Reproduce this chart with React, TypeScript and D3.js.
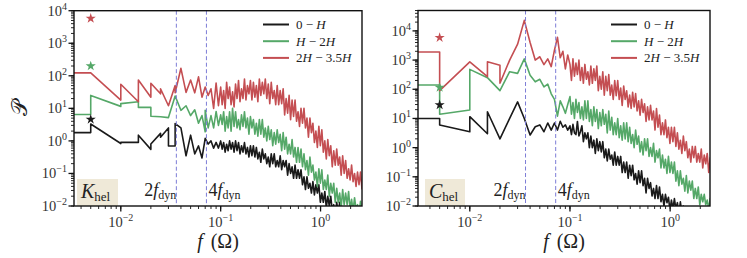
import React from 'react';
import * as d3 from 'd3';

// ---------- shared ----------
const SERIES_LABELS = ['0 − H', 'H − 2H', '2H − 3.5H'];
const COLORS = ['#1a1a1a', '#55a868', '#c44e52'];
const F_DYN = 0.018;
const STAR_F = 0.005;
// high-frequency sample grid (0.1 .. 2.6), 96 samples
const highF = d3.range(96).map((i) => 0.1 * Math.pow(10, (i * Math.log10(26)) / 95));

// ---------- K_hel panel ----------
const kBlackF = [0.001, 0.005, 0.005, 0.01, 0.01, 0.015, 0.015, 0.02, 0.02, 0.025, 0.025, 0.03, 0.03, 0.035, 0.035, 0.04, 0.045, 0.05, 0.055, 0.06, 0.065, 0.07, 0.075, 0.08, 0.085, 0.09, 0.095];
const kBlackV = [1.8, 1.8, 3.3, 0.83, 0.9, 0.9, 1.5, 0.55, 0.8, 1.7, 1.3, 2.5, 0.7, 0.7, 3.4, 2.5, 0.35, 1.5, 0.4, 0.7, 0.3, 1.2, 0.8, 1.0, 0.6, 0.9, 0.6];
const kBlackHi = [1,0.56,0.89,0.45,0.79,0.5,1,0.56,
  0.89,0.45,1,0.5,0.89,0.4,0.71,0.45,
  0.89,0.4,0.63,0.32,0.71,0.35,0.71,0.32,
  0.63,0.28,0.45,0.22,0.56,0.28,0.4,0.2,
  0.32,0.16,0.4,0.2,0.4,0.16,0.25,0.16,
  0.35,0.13,0.25,0.16,0.25,0.089,0.2,0.1,
  0.16,0.071,0.18,0.071,0.13,0.071,0.13,0.045,
  0.079,0.032,0.079,0.035,0.05,0.025,0.056,0.022,
  0.045,0.025,0.045,0.013,0.025,0.013,0.028,0.0089,
  0.02,0.01,0.02,0.0071,0.011,0.0056,0.013,0.0063,
  0.013,0.005,0.0089,0.0032,0.0089,0.004,0.0063,0.0028,
  0.005,0.0022,0.0056,0.0025,0.0056,0.002,0.0035,0.0014];

const kGreenF = [0.001, 0.005, 0.005, 0.01, 0.01, 0.015, 0.015, 0.02, 0.02, 0.025, 0.03, 0.035, 0.04, 0.045, 0.05, 0.055, 0.06, 0.065, 0.07, 0.07, 0.075, 0.08, 0.085, 0.09, 0.095];
const kGreenV = [6.5, 6.5, 25, 11.5, 14, 16, 10.7, 10.7, 5.7, 5.5, 5.2, 24, 8.7, 12, 6, 9, 3.5, 6, 1.9, 8.7, 2.5, 6, 2.5, 8, 3];
const kGreenHi = [6.3,3.2,7.9,2,5.6,2.5,7.9,2,
  10,2.8,7.9,2.5,4.5,2.2,6.3,2.8,
  7.9,2.5,5,1.6,5.6,2.5,4.5,1.6,
  3.5,1.4,4.5,1.6,4.5,1.3,2.5,1,
  2.8,1.1,2.2,0.71,1.8,0.79,2.2,0.89,
  1.6,0.5,1.8,0.56,1.3,0.4,0.79,0.4,
  1.1,0.32,0.63,0.22,0.63,0.22,0.56,0.16,
  0.4,0.13,0.25,0.089,0.32,0.11,0.18,0.063,
  0.11,0.04,0.14,0.05,0.13,0.032,0.063,0.032,
  0.089,0.02,0.05,0.025,0.05,0.013,0.035,0.013,
  0.025,0.0089,0.032,0.011,0.025,0.011,0.028,0.0079,
  0.016,0.0071,0.018,0.0079,0.011,0.0056,0.014,0.0056];

const kRedF = [0.001, 0.005, 0.01, 0.01, 0.015, 0.015, 0.02, 0.02, 0.025, 0.025, 0.03, 0.035, 0.035, 0.04, 0.045, 0.05, 0.055, 0.06, 0.065, 0.07, 0.075, 0.08, 0.085, 0.09, 0.095];
const kRedV = [123, 123, 18, 55, 16, 74, 22, 59, 28, 40, 12, 50, 30, 170, 31, 74, 30, 93, 22, 45, 25, 40, 10, 60, 12];
const kRedHi = [45,13,35,10,63,20,45,13,
  32,11,56,20,71,16,40,20,
  79,18,50,28,71,18,63,22,
  50,16,79,25,63,28,79,20,
  56,14,63,20,35,13,50,13,
  35,14,40,6.3,20,7.1,25,4.5,
  18,5.6,18,4,7.9,2.8,10,3.5,
  10,2.5,5,1.3,5,1.8,3.5,0.89,
  2,0.63,2.8,0.71,2.2,0.45,1,0.28,
  1.1,0.35,0.71,0.16,0.5,0.18,0.56,0.18,
  0.32,0.089,0.35,0.1,0.25,0.071,0.14,0.063,
  0.18,0.056,0.1,0.04,0.11,0.045,0.11,0.032];

const kStars = [4.6, 200, 5800];

// ---------- C_hel panel ----------
const cBlackF = [0.001, 0.005, 0.005, 0.01, 0.01, 0.015, 0.015, 0.02, 0.025, 0.03, 0.035, 0.04, 0.045, 0.05, 0.055, 0.06, 0.065, 0.07, 0.075, 0.08, 0.085, 0.09, 0.095];
const cBlackV = [10, 10, 6, 3.5, 11.5, 3, 17, 2, 10, 37, 10, 2.7, 5.2, 6, 3.5, 7, 4, 7, 4, 8, 5, 6, 4];
const cBlackHi = [5.6,2.8,6.3,3.2,2.8,7.9,2.5,3.5,
  5.6,1.6,3.2,2,3.2,1,2.5,1,
  1.8,0.63,2,0.79,1.6,0.71,1.6,0.45,
  0.89,0.35,0.89,0.4,0.56,0.25,0.71,0.25,
  0.5,0.25,0.5,0.14,0.32,0.14,0.32,0.089,
  0.25,0.11,0.25,0.079,0.13,0.056,0.16,0.063,
  0.16,0.05,0.089,0.028,0.089,0.04,0.063,0.022,
  0.04,0.018,0.05,0.018,0.045,0.014,0.025,0.01,
  0.025,0.013,0.02,0.0071,0.016,0.0079,0.018,0.0079,
  0.013,0.005,0.014,0.0056,0.01,0.004,0.0071,0.004,
  0.0079,0.0032,0.0056,0.0025,0.0063,0.0025,0.0056,0.0022,
  0.0045,0.0018,0.0032,0.0014,0.004,0.0018,0.0025,0.0011];

const cGreenF = [0.001, 0.005, 0.005, 0.01, 0.01, 0.015, 0.02, 0.025, 0.03, 0.035, 0.04, 0.045, 0.05, 0.055, 0.06, 0.065, 0.07, 0.075, 0.08, 0.085, 0.09, 0.095];
const cGreenV = [140, 140, 14, 19.5, 480, 250, 90, 400, 350, 1100, 300, 180, 220, 120, 150, 70, 45, 12, 40, 25, 15, 30];
const cGreenHi = [56,14,35,10,45,16,35,10,
  25,8.9,40,10,40,7.9,20,5.6,
  25,7.9,20,4.5,16,5.6,20,6.3,
  14,3.2,18,4,11,2.8,7.1,2.8,
  10,2.2,5.6,1.8,7.1,2,7.1,1.6,
  5,1.4,2.8,1,4,1.3,2.5,0.71,
  1.6,0.56,2,0.79,2,0.5,1,0.5,
  1.4,0.32,0.79,0.45,0.89,0.2,0.56,0.2,
  0.4,0.13,0.5,0.14,0.32,0.13,0.32,0.071,
  0.16,0.05,0.16,0.056,0.089,0.032,0.11,0.028,
  0.071,0.035,0.071,0.018,0.04,0.018,0.045,0.011,
  0.025,0.014,0.025,0.011,0.016,0.0079,0.018,0.0089];

const cRedF = [0.001, 0.005, 0.005, 0.01, 0.015, 0.015, 0.02, 0.02, 0.025, 0.03, 0.035, 0.04, 0.045, 0.05, 0.055, 0.06, 0.065, 0.07, 0.075, 0.08, 0.085, 0.09, 0.095];
const cRedV = [1900, 1900, 90, 870, 270, 870, 670, 160, 1000, 3500, 23000, 4000, 1000, 1300, 700, 1100, 600, 2200, 6000, 1200, 2000, 500, 1500];
const cRedHi = [710,200,1100,280,790,320,1000,200,
  560,160,710,220,400,140,630,160,
  500,200,630,89,280,100,400,63,
  280,89,320,63,140,45,200,60,
  200,45,110,28,130,45,89,25,
  63,22,79,25,71,18,40,13,
  45,16,32,7.9,25,8.9,28,8.9,
  18,4,22,5,13,2.8,7.1,2.8,
  8.9,2.2,5,1.4,5,1.6,5,1.1,
  3.2,0.89,1.8,0.63,2.5,0.79,1.6,0.45,
  0.89,0.32,1.1,0.45,1.1,0.32,0.63,0.32,
  0.89,0.2,0.56,0.28,0.63,0.14,0.45,0.16];

const cStars = [29, 115, 5900];

const FONT = "'Liberation Serif', 'DejaVu Serif', serif";

type Series = { f: number[]; v: number[]; hi: number[] };

function sup(e: number) {
  return e < 0 ? '−' + Math.abs(e) : String(e);
}

function LegendLabel({ text }: { text: string }) {
  return (
    <>
      {text.split('').map((ch, i) =>
        ch === 'H' ? (
          <tspan key={i} fontStyle="italic">H</tspan>
        ) : (
          <tspan key={i}>{ch}</tspan>
        )
      )}
    </>
  );
}

function Panel(props: {
  id: string;
  xDomain: [number, number];
  xRange: [number, number];
  yDomain: [number, number];
  yRange: [number, number];
  series: Series[];
  stars: number[];
  tag: string;
  tagBox: [number, number];
  legendX: number;
  yLabel: boolean;
}) {
  const { id, xDomain, xRange, yDomain, yRange, series, stars, tag, tagBox, legendX, yLabel } = props;
  const x = d3.scaleLog().domain(xDomain).range(xRange);
  const y = d3.scaleLog().domain(yDomain).range(yRange);
  const [x0, x1] = xRange;
  const [yb, yt] = yRange;
  const line = d3
    .line<[number, number]>()
    .x((d) => x(d[0]))
    .y((d) => y(Math.max(d[1], 1e-6)));

  const minorX: number[] = [];
  for (let e = -4; e <= 1; e++)
    for (let k = 1; k <= 9; k++) {
      const f = k * Math.pow(10, e);
      if (f >= xDomain[0] && f <= xDomain[1]) minorX.push(f);
    }
  const minorY: number[] = [];
  for (let e = -3; e <= 5; e++)
    for (let k = 1; k <= 9; k++) {
      const v = k * Math.pow(10, e);
      if (v >= yDomain[0] && v <= yDomain[1] * 1.0001) minorY.push(v);
    }
  const majorX = [-2, -1, 0];
  const majorY = [-2, -1, 0, 1, 2, 3, 4];
  const star = d3.symbol().type(d3.symbolStar).size(32)();

  return (
    <g fontFamily={FONT}>
      <defs>
        <clipPath id={id}>
          <rect x={x0} y={yt} width={x1 - x0} height={yb - yt} />
        </clipPath>
      </defs>
      {/* tag box */}
      <rect x={tagBox[0]} y={yb - 27} width={tagBox[1] - tagBox[0]} height={27} fill="#efe9d8" />
      <text x={tagBox[0] + 4} y={yb - 8} fontSize={20} fill="#222">
        <tspan fontStyle="italic">{tag}</tspan>
        <tspan fontSize={13} dy={3}>hel</tspan>
      </text>
      <g clipPath={`url(#${id})`}>
        {series.map((s, si) => {
          const pts: [number, number][] = s.f.map((f, i) => [f, s.v[i]] as [number, number]);
          highF.forEach((f, i) => pts.push([f, s.hi[i]]));
          return (
            <path key={si} d={line(pts) || ''} fill="none" stroke={COLORS[si]} strokeWidth={1.6} strokeLinejoin="round" />
          );
        })}
        {stars.map((v, si) => (
          <path key={'s' + si} d={star || ''} transform={`translate(${x(STAR_F)},${y(v)})`} fill={COLORS[si]} />
        ))}
      </g>
      {/* f_dyn lines */}
      {[2, 4].map((m) => (
        <line key={m} x1={x(m * F_DYN)} x2={x(m * F_DYN)} y1={yt} y2={yb} stroke="#7d7dd6" strokeWidth={1} strokeDasharray="4,2.5" />
      ))}
      <text x={x(2 * F_DYN)} y={yb - 10} fontSize={18} textAnchor="end" fill="#222">
        2<tspan fontStyle="italic">f</tspan>
        <tspan fontSize={12} dy={3}>dyn</tspan>
      </text>
      <text x={x(4 * F_DYN) + 2} y={yb - 10} fontSize={18} fill="#222">
        4<tspan fontStyle="italic">f</tspan>
        <tspan fontSize={12} dy={3}>dyn</tspan>
      </text>
      {/* legend */}
      {SERIES_LABELS.map((lab, i) => (
        <g key={lab}>
          <line x1={legendX} x2={legendX + 26} y1={24.5 + i * 16.7} y2={24.5 + i * 16.7} stroke={COLORS[i]} strokeWidth={2} />
          <text x={legendX + 33} y={29 + i * 16.7} fontSize={13} fill="#222">
            <LegendLabel text={lab} />
          </text>
        </g>
      ))}
      {/* spines */}
      <rect x={x0} y={yt} width={x1 - x0} height={yb - yt} fill="none" stroke="#111" strokeWidth={1.4} />
      {/* x ticks */}
      {minorX.map((f, i) => (
        <line key={'mx' + i} x1={x(f)} x2={x(f)} y1={yb} y2={yb + 3} stroke="#111" strokeWidth={0.9} />
      ))}
      {majorX.map((e) => (
        <g key={'Mx' + e}>
          <line x1={x(Math.pow(10, e))} x2={x(Math.pow(10, e))} y1={yb} y2={yb + 5.5} stroke="#111" strokeWidth={1.3} />
          <text x={x(Math.pow(10, e))} y={yb + 21} fontSize={14.5} textAnchor="middle" fill="#333">
            10<tspan fontSize={10} dy={-6}>{sup(e)}</tspan>
          </text>
        </g>
      ))}
      {/* y ticks */}
      {minorY.map((v, i) => (
        <line key={'my' + i} x1={x0 - 3} x2={x0} y1={y(v)} y2={y(v)} stroke="#111" strokeWidth={0.9} />
      ))}
      {majorY.map((e) => (
        <g key={'My' + e}>
          <line x1={x0 - 5.5} x2={x0} y1={y(Math.pow(10, e))} y2={y(Math.pow(10, e))} stroke="#111" strokeWidth={1.3} />
          <text x={x0 - 7} y={y(Math.pow(10, e)) + 5} fontSize={14.5} textAnchor="end" fill="#333">
            10<tspan fontSize={10} dy={-6}>{sup(e)}</tspan>
          </text>
        </g>
      ))}
      {/* axis labels */}
      <text x={(x0 + x1) / 2} y={248} fontSize={20} textAnchor="middle" fill="#222">
        <tspan fontStyle="italic">f</tspan>
        <tspan dx={8}>(Ω)</tspan>
      </text>
      {yLabel && (
        <text transform={`translate(27,${(yt + yb) / 2}) rotate(-90)`} fontSize={22} textAnchor="middle" fill="#222">
          𝒫
        </text>
      )}
    </g>
  );
}

export default function App() {
  const kSeries: Series[] = [
    { f: kBlackF, v: kBlackV, hi: kBlackHi },
    { f: kGreenF, v: kGreenV, hi: kGreenHi },
    { f: kRedF, v: kRedV, hi: kRedHi },
  ];
  const cSeries: Series[] = [
    { f: cBlackF, v: cBlackV, hi: cBlackHi },
    { f: cGreenF, v: cGreenV, hi: cGreenHi },
    { f: cRedF, v: cRedV, hi: cRedHi },
  ];
  return (
    <svg width={747} height={258} style={{ position: 'absolute', left: 0, top: 0, background: '#fff' }}>
      <rect width={747} height={258} fill="#fff" />
      <Panel
        id="clipK"
        xDomain={[0.0034, 2.6]}
        xRange={[74, 362]}
        yDomain={[0.01, 1e4]}
        yRange={[206, 10.7]}
        series={kSeries}
        stars={kStars}
        tag="K"
        tagBox={[77, 118]}
        legendX={263}
        yLabel={true}
      />
      <Panel
        id="clipC"
        xDomain={[0.00304, 2.5]}
        xRange={[418, 710]}
        yDomain={[0.01, 5e4]}
        yRange={[206, 10.5]}
        series={cSeries}
        stars={cStars}
        tag="C"
        tagBox={[425, 465]}
        legendX={611}
        yLabel={false}
      />
    </svg>
  );
}
